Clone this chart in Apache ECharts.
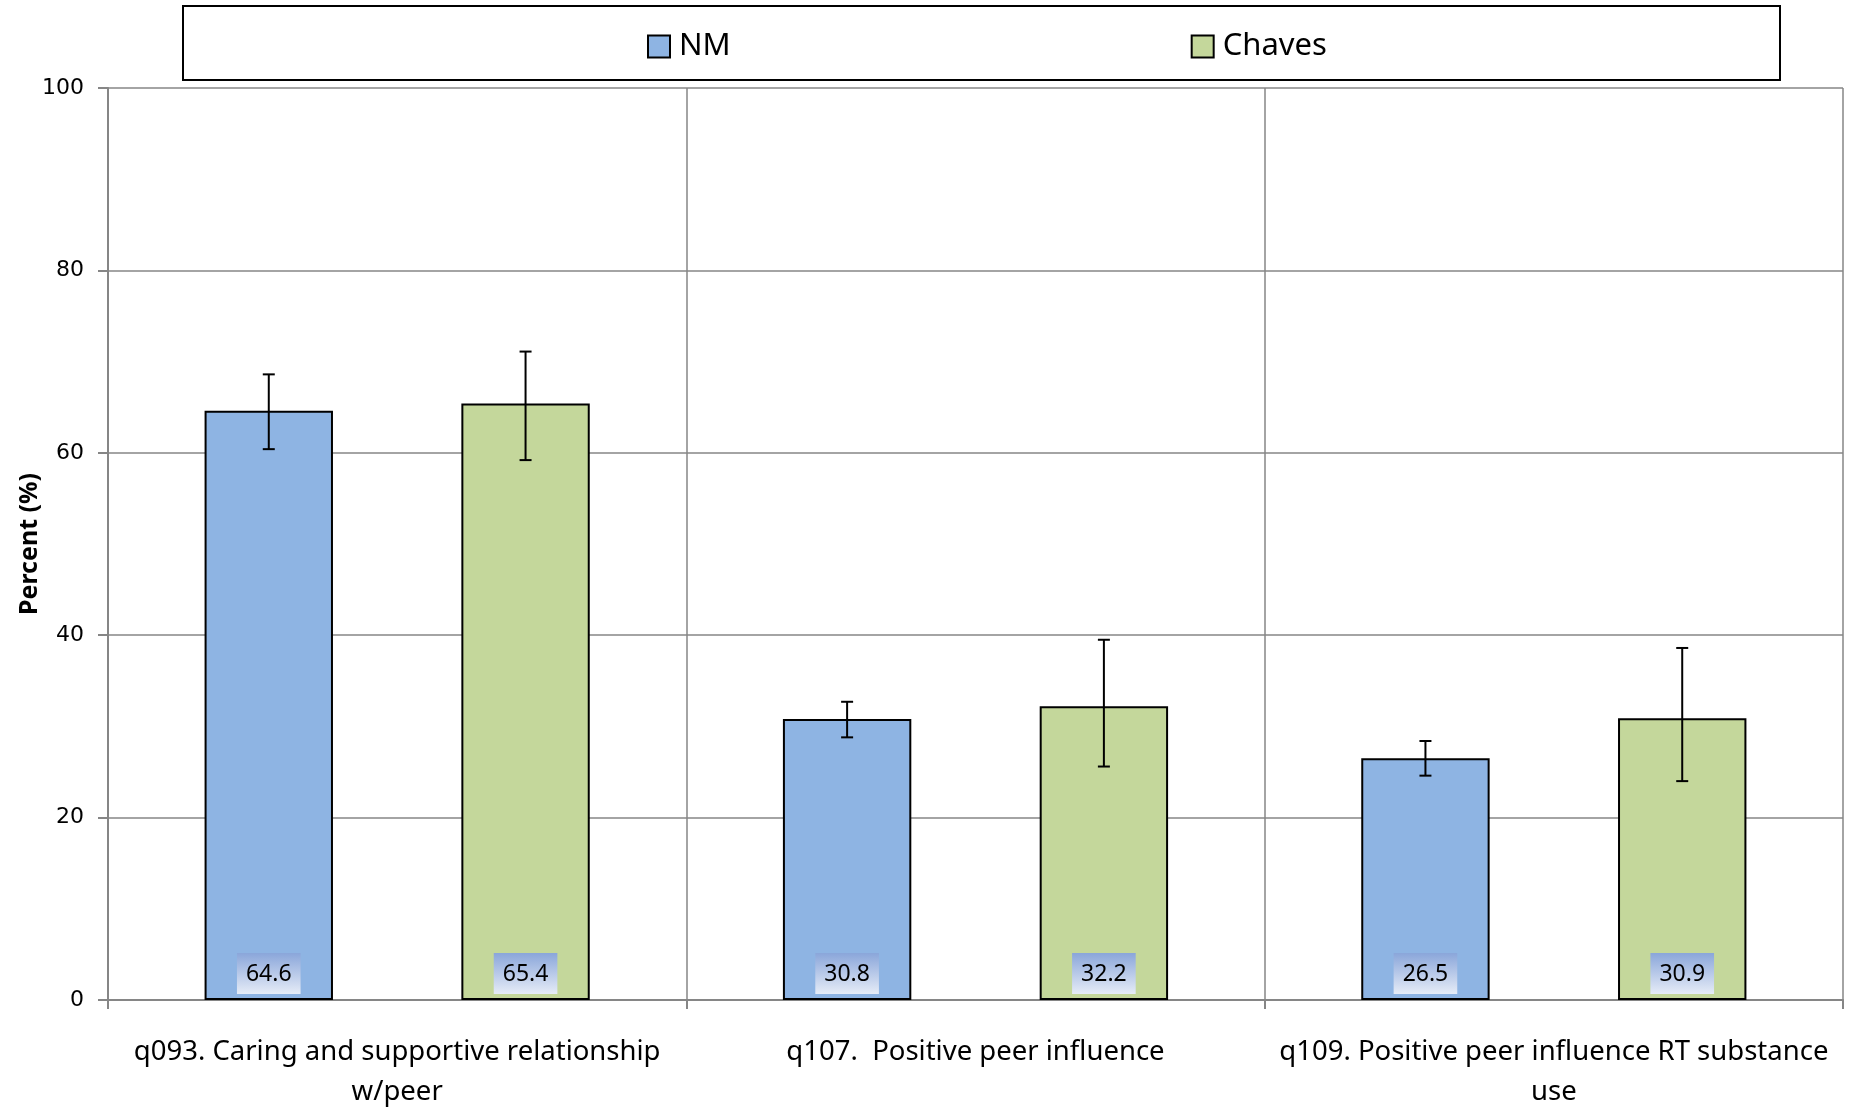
<!DOCTYPE html>
<html>
<head>
<meta charset="utf-8">
<script src="https://cdn.jsdelivr.net/npm/echarts@6/dist/echarts.min.js"></script>
<style>html,body{margin:0;padding:0;background:#fff}#c{width:1855px;height:1107px}</style>
</head>
<body>
<div id="c"></div>
<script>
const categories = [
  "q093. Caring and supportive relationship\nw/peer",
  "q107.  Positive peer influence",
  "q109. Positive peer influence RT substance\nuse"
];
const seriesNames = ["NM", "Chaves"];
const nmValues = [64.6, 30.8, 26.5];
const chavesValues = [65.4, 32.2, 30.9];
const nmLow = [60.4, 28.8, 24.6];
const nmHigh = [68.6, 32.7, 28.4];
const chavesLow = [59.2, 25.6, 24.0];
const chavesHigh = [71.1, 39.5, 38.6];
const yTicks = [0, 20, 40, 60, 80, 100];

const chart = echarts.init(document.getElementById('c'));
const BAR_GAP_CAT = 0.334;
const colors = ['#8EB4E3', '#C4D79B'];

function errData(low, high) {
  return categories.map((c, i) => [i, low[i], high[i]]);
}
function makeErr(idx) {
  return function (params, api) {
    const i = api.value(0);
    const lo = api.coord([i, api.value(1)]);
    const hi = api.coord([i, api.value(2)]);
    const band = api.size([1, 0])[0];
    const w = band * (1 - BAR_GAP_CAT) / 3;
    const x = lo[0] + (idx === 0 ? -w : w);
    const cap = 6;
    const st = { stroke: '#000', lineWidth: 2 };
    return {
      type: 'group',
      children: [
        { type: 'line', shape: { x1: x, y1: lo[1], x2: x, y2: hi[1] }, style: st },
        { type: 'line', shape: { x1: x - cap, y1: lo[1], x2: x + cap, y2: lo[1] }, style: st },
        { type: 'line', shape: { x1: x - cap, y1: hi[1], x2: x + cap, y2: hi[1] }, style: st }
      ]
    };
  };
}
const labelBg = new echarts.graphic.LinearGradient(0, 0, 0, 1, [
  { offset: 0, color: '#8AA6DA' },
  { offset: 1, color: '#E6ECF7' }
]);
const barLabel = {
  show: true,
  position: 'insideBottom',
  distance: 6,
  color: '#000',
  fontFamily: 'Noto Sans',
  fontSize: 23,
  backgroundColor: labelBg,
  padding: [10, 9, 8, 9],
  formatter: p => p.value.toFixed(1)
};

chart.setOption({
  animation: false,
  backgroundColor: '#fff',
  graphic: [{
    type: 'rect',
    shape: { x: 183, y: 6, width: 1597, height: 74 },
    style: { fill: '#fff', stroke: '#000', lineWidth: 2 },
    z: 0
  }],
  legend: {
    data: seriesNames,
    icon: 'rect',
    left: 642,
    top: 26,
    itemGap: 460,
    itemWidth: 22,
    itemHeight: 22,
    textStyle: { fontFamily: 'Noto Sans', fontSize: 31, color: '#000', padding: [0, 0, 0, 4] },
    z: 5
  },
  grid: { left: 108, right: 12, top: 88, bottom: 107, containLabel: false, outerBoundsMode: 'none' },
  xAxis: {
    type: 'category',
    data: categories,
    axisLine: { lineStyle: { color: '#868686', width: 2 } },
    axisTick: { show: true, length: 9, lineStyle: { color: '#868686', width: 2 } },
    splitLine: { show: true, lineStyle: { color: '#868686', width: 1.5 } },
    axisLabel: { fontFamily: 'Noto Sans', fontSize: 27.5, color: '#000', margin: 32, lineHeight: 40, interval: 0 }
  },
  yAxis: {
    type: 'value',
    min: 0, max: 100, interval: 20,
    name: 'Percent (%)',
    nameLocation: 'middle',
    nameGap: 66,
    nameRotate: 90,
    nameMoveOverlap: false,
    nameTextStyle: { fontFamily: 'Noto Sans', fontWeight: 'bold', fontSize: 25, color: '#000' },
    axisLine: { show: true, lineStyle: { color: '#868686', width: 2 } },
    axisTick: { show: true, length: 10, lineStyle: { color: '#868686', width: 2 } },
    splitLine: { show: true, lineStyle: { color: '#868686', width: 1.5 } },
    axisLabel: { fontFamily: 'DejaVu Sans', fontSize: 22, color: '#000', margin: 24,
      formatter: v => yTicks.includes(v) ? String(v) : '' }
  },
  series: [
    {
      name: seriesNames[0], type: 'bar', data: nmValues,
      barCategoryGap: (BAR_GAP_CAT * 100) + '%', barGap: '100%',
      itemStyle: { color: colors[0], borderColor: '#000', borderWidth: 2 },
      label: barLabel, z: 2
    },
    {
      name: seriesNames[1], type: 'bar', data: chavesValues,
      barCategoryGap: (BAR_GAP_CAT * 100) + '%', barGap: '100%',
      itemStyle: { color: colors[1], borderColor: '#000', borderWidth: 2 },
      label: barLabel, z: 2
    },
    { type: 'custom', renderItem: makeErr(0), data: errData(nmLow, nmHigh), z: 10,
      encode: { x: 0, y: [1, 2] }, silent: true },
    { type: 'custom', renderItem: makeErr(1), data: errData(chavesLow, chavesHigh), z: 10,
      encode: { x: 0, y: [1, 2] }, silent: true }
  ]
});
</script>
</body>
</html>
